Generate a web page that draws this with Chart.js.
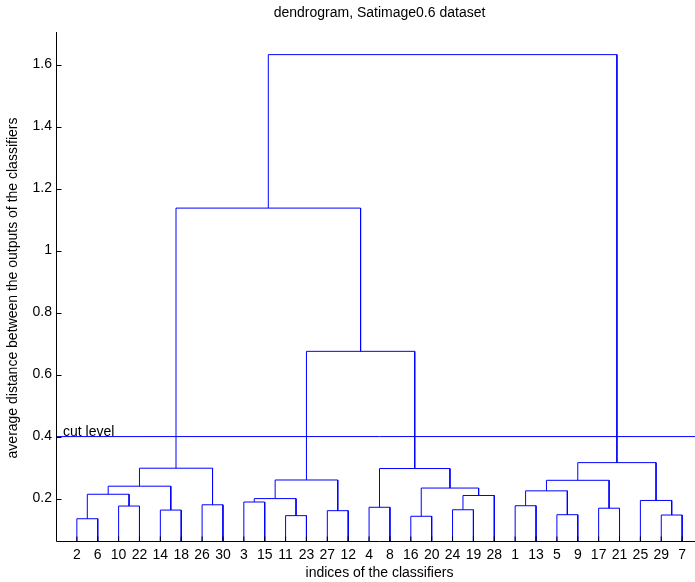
<!DOCTYPE html>
<html>
<head>
<meta charset="utf-8">
<script src="https://cdn.jsdelivr.net/npm/chart.js@4.4.1/dist/chart.umd.min.js"></script>
<style>
  html, body { margin: 0; padding: 0; background: #fff; overflow: hidden; }
  #wrap { width: 695px; height: 582px; overflow: hidden; position: relative; }
  canvas { display: block; }
</style>
</head>
<body>
<div id="wrap"><canvas id="c" width="703" height="582"></canvas></div>
<script>
// Classifier indices in dendrogram leaf order (bottom tick labels)
const leafOrder = [2, 6, 10, 22, 14, 18, 26, 30, 3, 15, 11, 23, 27, 12, 4, 8, 16, 20, 24, 19, 28, 1, 13, 5, 9, 17, 21, 25, 29, 7];

// Linkage table (MATLAB style): ids 1..30 are classifiers, row k creates cluster 30+k
const linkLeft   = [2, 10, 31, 14, 33, 26, 35, 3, 11, 38, 27, 40, 4, 16, 24, 45, 44, 43, 1, 5, 49, 17, 51, 29, 25, 53, 42, 37, 58];
const linkRight  = [6, 22, 32, 18, 34, 30, 36, 15, 23, 39, 12, 41, 8, 20, 19, 28, 46, 47, 13, 9, 50, 21, 52, 7, 54, 55, 48, 57, 56];
const linkHeight = [0.135, 0.176, 0.214, 0.163, 0.240, 0.180, 0.298, 0.189, 0.145, 0.200, 0.161, 0.260,
                    0.172, 0.143, 0.164, 0.210, 0.234, 0.297, 0.177, 0.148, 0.225, 0.169, 0.259,
                    0.147, 0.194, 0.316, 0.675, 1.137, 1.632];

// Threshold used to cut the tree
const cutLevel = 0.4;

// Y axis ticks
const yTicks = [0.2, 0.4, 0.6, 0.8, 1.0, 1.2, 1.4, 1.6];

const N = leafOrder.length;

// Position and height of every node (leaves at height 0)
const nodeX = {}, nodeH = {};
leafOrder.forEach((id, i) => { nodeX[id] = i + 1; nodeH[id] = 0; });
linkHeight.forEach((h, k) => {
  const id = N + 1 + k;
  const a = linkLeft[k], b = linkRight[k];
  nodeX[id] = (nodeX[a] + nodeX[b]) / 2;
  nodeH[id] = h;
});

const blue = '#0000ff';
const datasets = linkHeight.map((h, k) => {
  const a = linkLeft[k], b = linkRight[k];
  return {
    data: [
      { x: nodeX[a], y: nodeH[a] },
      { x: nodeX[a], y: h },
      { x: nodeX[b], y: h },
      { x: nodeX[b], y: nodeH[b] }
    ],
    borderColor: blue, borderWidth: 1, pointRadius: 0, fill: false, tension: 0
  };
});
datasets.push({
  data: [{ x: 0, y: cutLevel }, { x: N + 1, y: cutLevel }],
  borderColor: blue, borderWidth: 1, pointRadius: 0, fill: false
});

const FONT = '"Liberation Sans", Arial, Helvetica, sans-serif';
const FSIZE = 14;

// Axis lines, inward tick marks, titles and the cut level caption
const decorations = {
  id: 'decorations',
  afterDraw(chart) {
    const ctx = chart.ctx, area = chart.chartArea;
    const xs = chart.scales.x, ys = chart.scales.y;
    ctx.save();
    ctx.strokeStyle = '#000';
    ctx.lineWidth = 1;
    const L = Math.round(area.left) + 0.5, B = Math.round(area.bottom) - 0.5;
    ctx.beginPath();
    ctx.moveTo(L, area.top); ctx.lineTo(L, B);
    ctx.lineTo(area.right, B);
    ys.ticks.forEach(t => {
      const y = Math.round(ys.getPixelForValue(t.value)) + 0.5;
      ctx.moveTo(L, y); ctx.lineTo(L + 5, y);
    });
    xs.ticks.forEach(t => {
      const x = xs.getPixelForValue(t.value);
      ctx.moveTo(x, B); ctx.lineTo(x, B - 5);
    });
    ctx.stroke();

    ctx.fillStyle = '#000';
    ctx.font = FSIZE + 'px ' + FONT;
    ctx.textAlign = 'center';
    ctx.textBaseline = 'middle';
    const cx = (area.left + area.right) / 2;
    ctx.fillText('dendrogram, Satimage0.6 dataset', cx, 13);
    ctx.fillText('indices of the classifiers', cx, 573);
    ctx.save();
    ctx.translate(13, 288);
    ctx.rotate(-Math.PI / 2);
    ctx.fillText('average distance between the outputs of the classifiers', 0, 0);
    ctx.restore();

    ctx.textAlign = 'left';
    ctx.textBaseline = 'alphabetic';
    ctx.fillText('cut level', xs.getPixelForValue(0) + 7, ys.getPixelForValue(cutLevel) - 1);
    ctx.restore();
  }
};

new Chart(document.getElementById('c'), {
  type: 'line',
  data: { datasets },
  options: {
    responsive: false,
    animation: false,
    events: [],
    layout: { padding: { top: 32, right: 0, left: 0, bottom: 0 } },
    plugins: { legend: { display: false }, tooltip: { enabled: false }, title: { display: false } },
    scales: {
      x: {
        type: 'linear', min: 0, max: N + 1,
        grid: { display: false, drawTicks: false },
        border: { display: false },
        afterBuildTicks: s => { s.ticks = leafOrder.map((_, i) => ({ value: i + 1 })); },
        afterFit: s => { s.height = 40; },
        ticks: {
          autoSkip: false, maxRotation: 0, minRotation: 0, padding: 5,
          color: '#000', font: { family: FONT, size: FSIZE },
          callback: v => String(leafOrder[v - 1])
        }
      },
      y: {
        type: 'linear', min: 0.06, max: 1.705,
        grid: { display: false, drawTicks: false },
        border: { display: false },
        afterBuildTicks: s => { s.ticks = yTicks.map(v => ({ value: v })); },
        afterFit: s => { s.width = 56; },
        ticks: {
          padding: 4, color: '#000', font: { family: FONT, size: FSIZE },
          callback: v => String(+v.toFixed(1))
        }
      }
    }
  },
  plugins: [decorations]
});
</script>
</body>
</html>
